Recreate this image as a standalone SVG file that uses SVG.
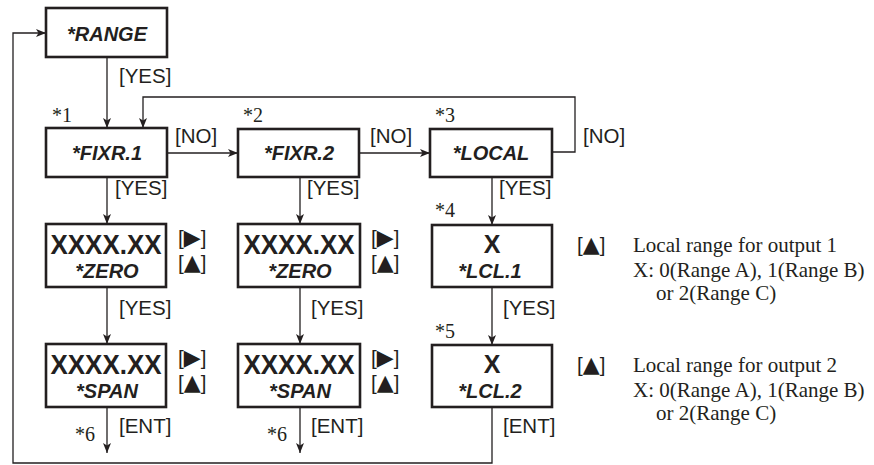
<svg xmlns="http://www.w3.org/2000/svg" width="874" height="465" viewBox="0 0 874 465">
<style>
.box{fill:#fff;stroke:#231f20;stroke-width:2.6}
.ln{fill:none;stroke:#231f20;stroke-width:1.3}
.bt{font-family:"Liberation Sans",Arial,sans-serif;font-weight:bold;font-style:italic;font-size:20px;fill:#231f20;text-anchor:middle}
.big{font-family:"Liberation Sans",Arial,sans-serif;font-weight:bold;font-size:27px;fill:#231f20;text-anchor:middle}
.sm{font-family:"Liberation Sans",Arial,sans-serif;font-weight:bold;font-style:italic;font-size:20px;fill:#231f20;text-anchor:middle}
.lb{font-family:"Liberation Sans",Arial,sans-serif;font-size:20.5px;fill:#231f20}
.tri{font-family:"DejaVu Sans",sans-serif;font-size:22px}
.st{font-family:"Liberation Serif","Times New Roman",serif;font-size:20px;fill:#231f20}
.sr{font-family:"Liberation Serif","Times New Roman",serif;font-size:21px;fill:#231f20}
</style>
<defs>
<marker id="ah" viewBox="0 0 10 8" refX="10" refY="4" markerWidth="10" markerHeight="8" markerUnits="userSpaceOnUse" orient="auto">
<path d="M0,0 L10,4 L0,8 L2.5,4 Z" fill="#231f20"/>
</marker>
</defs>
<g id="connectors">
<path class="ln" d="M107,57 V128" marker-end="url(#ah)"/>
<path class="ln" d="M167,153 H238" marker-end="url(#ah)"/>
<path class="ln" d="M359,153 H430" marker-end="url(#ah)"/>
<path class="ln" d="M552,152 H575 V97 H143 V128" marker-end="url(#ah)"/>
<path class="ln" d="M107,177 V224" marker-end="url(#ah)"/>
<path class="ln" d="M300,177 V224" marker-end="url(#ah)"/>
<path class="ln" d="M492,177 V225" marker-end="url(#ah)"/>
<path class="ln" d="M107,287 V344" marker-end="url(#ah)"/>
<path class="ln" d="M300,287 V344" marker-end="url(#ah)"/>
<path class="ln" d="M492,287 V345" marker-end="url(#ah)"/>
<path class="ln" d="M107,407 V453" marker-end="url(#ah)"/>
<path class="ln" d="M300,407 V453" marker-end="url(#ah)"/>
<path class="ln" d="M492,407 V463 H13 V33 H46" marker-end="url(#ah)"/>
<text class="lb" x="119" y="83">[YES]</text>
<text class="lb" x="175" y="143">[NO]</text>
<text class="lb" x="370" y="143">[NO]</text>
<text class="lb" x="583" y="143">[NO]</text>
<text class="lb" x="115" y="195">[YES]</text>
<text class="lb" x="307" y="195">[YES]</text>
<text class="lb" x="499" y="195">[YES]</text>
<text class="lb" x="119" y="315">[YES]</text>
<text class="lb" x="311" y="315">[YES]</text>
<text class="lb" x="503" y="315">[YES]</text>
<text class="lb" x="119" y="433">[ENT]</text>
<text class="lb" x="311" y="433">[ENT]</text>
<text class="lb" x="503" y="433">[ENT]</text>
<text class="st" x="75" y="441">*6</text>
<text class="st" x="267" y="441">*6</text>
</g>
<g id="range">
<rect class="box" x="46" y="8" width="121" height="49"/>
<text class="bt" x="107" y="41">*RANGE</text>
</g>
<g id="fixr1">
<text class="st" x="52" y="122">*1</text>
<rect class="box" x="46" y="128" width="121" height="49"/>
<text class="bt" x="107" y="160">*FIXR.1</text>
</g>
<g id="fixr2">
<text class="st" x="243" y="122">*2</text>
<rect class="box" x="238" y="129" width="121" height="48"/>
<text class="bt" x="299" y="160">*FIXR.2</text>
</g>
<g id="local">
<text class="st" x="435" y="122">*3</text>
<rect class="box" x="430" y="129" width="122" height="48"/>
<text class="bt" x="491" y="160">*LOCAL</text>
</g>
<g id="zero1">
<rect class="box" x="46" y="224" width="120" height="63"/>
<text class="big" x="106" y="254" textLength="111" lengthAdjust="spacingAndGlyphs">XXXX.XX</text>
<text class="sm" x="107" y="278">*ZERO</text>
<text class="lb" x="178" y="245">[<tspan class="tri">▶</tspan>]</text>
<text class="lb" x="178" y="270">[<tspan class="tri">▲</tspan>]</text>
</g>
<g id="span1">
<rect class="box" x="46" y="344" width="120" height="63"/>
<text class="big" x="106" y="374" textLength="111" lengthAdjust="spacingAndGlyphs">XXXX.XX</text>
<text class="sm" x="107" y="398">*SPAN</text>
<text class="lb" x="178" y="365">[<tspan class="tri">▶</tspan>]</text>
<text class="lb" x="178" y="390">[<tspan class="tri">▲</tspan>]</text>
</g>
<g id="zero2">
<rect class="box" x="238" y="224" width="122" height="63"/>
<text class="big" x="299" y="254" textLength="111" lengthAdjust="spacingAndGlyphs">XXXX.XX</text>
<text class="sm" x="300" y="278">*ZERO</text>
<text class="lb" x="371" y="245">[<tspan class="tri">▶</tspan>]</text>
<text class="lb" x="371" y="270">[<tspan class="tri">▲</tspan>]</text>
</g>
<g id="span2">
<rect class="box" x="238" y="344" width="122" height="63"/>
<text class="big" x="299" y="374" textLength="111" lengthAdjust="spacingAndGlyphs">XXXX.XX</text>
<text class="sm" x="300" y="398">*SPAN</text>
<text class="lb" x="371" y="365">[<tspan class="tri">▶</tspan>]</text>
<text class="lb" x="371" y="390">[<tspan class="tri">▲</tspan>]</text>
</g>
<g id="lcl1">
<text class="st" x="435" y="217">*4</text>
<rect class="box" x="432" y="225" width="120" height="62"/>
<text class="big" x="492" y="253" style="font-size:25px">X</text>
<text class="sm" x="490" y="278">*LCL.1</text>
<text class="lb" x="577" y="252">[<tspan class="tri">▲</tspan>]</text>
<text class="sr" x="633" y="252">Local range for output 1</text>
<text class="sr" x="633" y="277">X: 0(Range A), 1(Range B)</text>
<text class="sr" x="656" y="300">or 2(Range C)</text>
</g>
<g id="lcl2">
<text class="st" x="435" y="338">*5</text>
<rect class="box" x="432" y="345" width="120" height="62"/>
<text class="big" x="492" y="373" style="font-size:25px">X</text>
<text class="sm" x="490" y="398">*LCL.2</text>
<text class="lb" x="577" y="372">[<tspan class="tri">▲</tspan>]</text>
<text class="sr" x="633" y="372">Local range for output 2</text>
<text class="sr" x="633" y="397">X: 0(Range A), 1(Range B)</text>
<text class="sr" x="656" y="420">or 2(Range C)</text>
</g>
</svg>
